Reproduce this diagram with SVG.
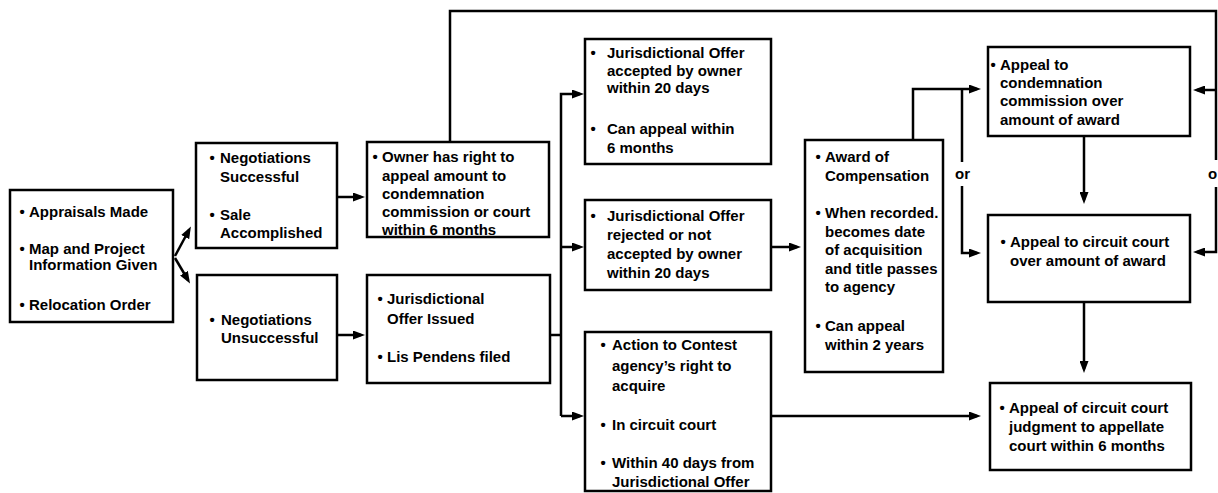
<svg xmlns="http://www.w3.org/2000/svg" width="1218" height="493" viewBox="0 0 1218 493">
<style>
.box{fill:#fff;stroke:#000;stroke-width:2.5}
.t{font-family:"Liberation Sans",Arial,sans-serif;font-weight:bold;font-size:15px;fill:#000}
.c{fill:none;stroke:#000;stroke-width:2.5}
.a{marker-end:url(#ah)}
</style>
<defs>
<marker id="ah" markerUnits="userSpaceOnUse" markerWidth="12" markerHeight="9" refX="8" refY="4.5" orient="auto">
<path d="M0,0 L12,4.5 L0,9 z" fill="#000"/>
</marker>
</defs>
<rect width="1218" height="493" fill="#fff"/>
<g id="connectors">
<path class="c a" d="M175,256 L189,230"/>
<path class="c a" d="M175,258 L188,280"/>
<path class="c a" d="M337,197 L361,197"/>
<path class="c a" d="M337,335 L361,335"/>
<path class="c" d="M450,142 L450,11 L1216,11 L1216,160"/>
<path class="c a" d="M1216,90 L1197,90"/>
<path class="c a" d="M1216,187 L1216,252 L1197,252"/>
<path class="c" d="M550,335 L561,335"/>
<path class="c a" d="M561,416 L561,94 L580,94"/>
<path class="c a" d="M561,247 L580,247"/>
<path class="c a" d="M561,416 L580,416"/>
<path class="c a" d="M771,247 L797,247"/>
<path class="c a" d="M913,140 L913,89 L977,89"/>
<path class="c" d="M962,89 L962,162"/>
<path class="c a" d="M962,186 L962,253 L977,253"/>
<path class="c a" d="M1084,136 L1084,200"/>
<path class="c a" d="M1084,302 L1084,369"/>
<path class="c a" d="M771,416 L977,416"/>
<text class="t" x="955" y="179">or</text>
<text class="t" x="1208" y="179">o</text>
</g>
<g id="n1">
<rect class="box" x="10" y="190" width="163" height="132"/>
<text class="t" x="19.5" y="217">•</text><text class="t" x="29" y="217">Appraisals Made</text>
<text class="t" x="19.5" y="254">•</text><text class="t" x="29" y="254">Map and Project</text>
<text class="t" x="29" y="270">Information Given</text>
<text class="t" x="19.5" y="310">•</text><text class="t" x="29" y="310">Relocation Order</text>
</g>
<g id="n2">
<rect class="box" x="196" y="143" width="141" height="105"/>
<text class="t" x="209.5" y="163">•</text><text class="t" x="220" y="163">Negotiations</text>
<text class="t" x="220" y="182">Successful</text>
<text class="t" x="209.5" y="220">•</text><text class="t" x="220" y="220">Sale</text>
<text class="t" x="220" y="238">Accomplished</text>
</g>
<g id="n3">
<rect class="box" x="197" y="275" width="140" height="105"/>
<text class="t" x="209.5" y="325">•</text><text class="t" x="221" y="325">Negotiations</text>
<text class="t" x="221" y="343">Unsuccessful</text>
</g>
<g id="n4">
<rect class="box" x="367" y="142" width="182" height="95"/>
<text class="t" x="372.5" y="162">•</text><text class="t" x="382" y="162">Owner has right to</text>
<text class="t" x="382" y="181">appeal amount to</text>
<text class="t" x="382" y="199">condemnation</text>
<text class="t" x="382" y="217">commission or court</text>
<text class="t" x="382" y="235">within 6 months</text>
</g>
<g id="n5">
<rect class="box" x="367" y="275" width="183" height="108"/>
<text class="t" x="377.5" y="304">•</text><text class="t" x="387" y="304">Jurisdictional</text>
<text class="t" x="387" y="324">Offer Issued</text>
<text class="t" x="377.5" y="362">•</text><text class="t" x="387" y="362">Lis Pendens filed</text>
</g>
<g id="n6">
<rect class="box" x="585" y="39" width="186" height="125"/>
<text class="t" x="590.5" y="58">•</text><text class="t" x="607" y="58">Jurisdictional Offer</text>
<text class="t" x="607" y="76">accepted by owner</text>
<text class="t" x="607" y="93">within 20 days</text>
<text class="t" x="590.5" y="134">•</text><text class="t" x="607" y="134">Can appeal within</text>
<text class="t" x="607" y="153">6 months</text>
</g>
<g id="n7">
<rect class="box" x="585" y="200" width="186" height="90"/>
<text class="t" x="590.5" y="221">•</text><text class="t" x="607" y="221">Jurisdictional Offer</text>
<text class="t" x="607" y="240">rejected or not</text>
<text class="t" x="607" y="259">accepted by owner</text>
<text class="t" x="607" y="278">within 20 days</text>
</g>
<g id="n8">
<rect class="box" x="585" y="332" width="186" height="159"/>
<text class="t" x="600.5" y="350">•</text><text class="t" x="612" y="350">Action to Contest</text>
<text class="t" x="612" y="371">agency’s right to</text>
<text class="t" x="612" y="391">acquire</text>
<text class="t" x="600.5" y="430">•</text><text class="t" x="612" y="430">In circuit court</text>
<text class="t" x="600.5" y="468">•</text><text class="t" x="612" y="468">Within 40 days from</text>
<text class="t" x="612" y="487">Jurisdictional Offer</text>
</g>
<g id="n9">
<rect class="box" x="805" y="140" width="138" height="232"/>
<text class="t" x="815.5" y="162">•</text><text class="t" x="825" y="162">Award of</text>
<text class="t" x="825" y="181">Compensation</text>
<text class="t" x="815.5" y="218">•</text><text class="t" x="825" y="218">When recorded.</text>
<text class="t" x="825" y="237">becomes date</text>
<text class="t" x="825" y="255">of acquisition</text>
<text class="t" x="825" y="274">and title passes</text>
<text class="t" x="825" y="292">to agency</text>
<text class="t" x="815.5" y="331">•</text><text class="t" x="825" y="331">Can appeal</text>
<text class="t" x="825" y="350">within 2 years</text>
</g>
<g id="n10">
<rect class="box" x="988" y="47" width="202" height="89"/>
<text class="t" x="990.5" y="70">•</text><text class="t" x="1000" y="70">Appeal to</text>
<text class="t" x="1000" y="88">condemnation</text>
<text class="t" x="1000" y="106">commission over</text>
<text class="t" x="1000" y="125">amount of award</text>
</g>
<g id="n11">
<rect class="box" x="988" y="215" width="202" height="87"/>
<text class="t" x="1000.5" y="247">•</text><text class="t" x="1010" y="247">Appeal to circuit court</text>
<text class="t" x="1010" y="266">over amount of award</text>
</g>
<g id="n12">
<rect class="box" x="990" y="383" width="201" height="87"/>
<text class="t" x="999.5" y="413">•</text><text class="t" x="1009" y="413">Appeal of circuit court</text>
<text class="t" x="1009" y="432">judgment to appellate</text>
<text class="t" x="1009" y="451">court within 6 months</text>
</g>
</svg>
